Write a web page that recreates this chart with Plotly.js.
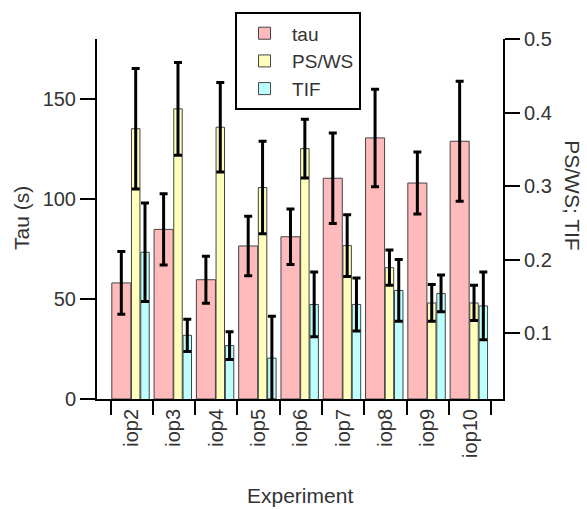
<!DOCTYPE html>
<html>
<head>
<meta charset="utf-8">
<script src="https://cdn.plot.ly/plotly-3.0.1.min.js"></script>
<style>html,body{margin:0;padding:0;background:#fff;}#chart{width:587px;height:509px;}</style>
</head>
<body>
<div id="chart"></div>
<script>
const categories = ['iop2','iop3','iop4','iop5','iop6','iop7','iop8','iop9','iop10'];
const tau      = [58.1, 84.9, 59.7, 76.6, 81.2, 110.5, 130.7, 108.1, 129.0];
const tauErr   = [15.7, 17.8, 11.8, 14.9, 13.9, 22.6, 24.4, 15.5, 30.0];
const psws     = [0.378, 0.405, 0.380, 0.298, 0.351, 0.219, 0.189, 0.141, 0.141];
const pswsErr  = [0.082, 0.063, 0.061, 0.063, 0.040, 0.042, 0.024, 0.025, 0.024];
const tif      = [0.210, 0.097, 0.083, 0.066, 0.139, 0.139, 0.158, 0.154, 0.137];
const tifErr   = [0.067, 0.022, 0.019, 0.057, 0.044, 0.036, 0.042, 0.025, 0.046];
const leftTicks  = [0, 50, 100, 150];
const rightTicks = [0.1, 0.2, 0.3, 0.4, 0.5];

const FONT = 'Liberation Sans, Arial, sans-serif';
const TXT = '#333';
const outline = {color: '#444', width: 1};
const err = (arr) => ({type: 'data', array: arr, visible: true, color: '#000', thickness: 3, width: 4});

const traces = [
  {type: 'bar', name: 'tau', x: categories, y: tau, yaxis: 'y',
   offset: -0.47, width: 0.45,
   marker: {color: '#FFBBBB', line: outline}, error_y: err(tauErr)},
  {type: 'bar', name: 'PS/WS', x: categories, y: psws, yaxis: 'y2',
   offset: -0.005, width: 0.2,
   marker: {color: '#FFFFBB', line: outline}, error_y: err(pswsErr)},
  {type: 'bar', name: 'TIF', x: categories, y: tif, yaxis: 'y2',
   offset: 0.215, width: 0.2,
   marker: {color: '#BBFFFF', line: outline}, error_y: err(tifErr)}
];

const layout = {
  width: 587, height: 509,
  margin: {l: 97, r: 84, t: 35, b: 110},
  paper_bgcolor: '#fff', plot_bgcolor: '#fff',
  font: {family: FONT, size: 20, color: TXT},
  barmode: 'overlay',
  showlegend: true,
  legend: {x: 0.34, y: 1.074, xanchor: 'left', yanchor: 'top',
           bgcolor: '#fff', bordercolor: '#000', borderwidth: 2,
           itemwidth: 45,
           font: {family: FONT, size: 19, color: TXT}, traceorder: 'normal'},
  xaxis: {type: 'category', range: [-0.82, 8.78], tickson: 'boundaries',
          ticks: 'outside', ticklen: 14, tickwidth: 2, tickcolor: '#000',
          showline: true, linecolor: '#000', linewidth: 2,
          tickangle: -90, showgrid: false, zeroline: false,
          tickfont: {family: FONT, size: 20, color: TXT}},
  yaxis: {range: [0, 180.2], tickvals: leftTicks, ticks: 'outside', ticklen: 15,
          tickwidth: 2, tickcolor: '#000', showline: true, linecolor: '#000', linewidth: 2,
          showgrid: false, zeroline: false,
          tickfont: {family: FONT, size: 20, color: TXT}},
  yaxis2: {overlaying: 'y', side: 'right', range: [0.0104, 0.5], tickvals: rightTicks,
           ticks: 'outside', ticklen: 15, tickwidth: 2, tickcolor: '#000',
           showline: true, linecolor: '#000', linewidth: 2,
           showgrid: false, zeroline: false,
           tickfont: {family: FONT, size: 20, color: TXT}},
  annotations: [
    {text: 'Experiment', xref: 'paper', yref: 'paper', x: 0.5, y: -0.269,
     xanchor: 'center', yanchor: 'middle', showarrow: false,
     font: {family: FONT, size: 21, color: TXT}},
    {text: 'Tau (s)', xref: 'paper', yref: 'paper', x: -0.1847, y: 0.503,
     xanchor: 'center', yanchor: 'middle', textangle: -90, showarrow: false,
     font: {family: FONT, size: 21, color: TXT}},
    {text: 'PS/WS; TIF', xref: 'paper', yref: 'paper', x: 1.1724, y: 0.566,
     xanchor: 'center', yanchor: 'middle', textangle: 90, showarrow: false,
     font: {family: FONT, size: 21, color: TXT}}
  ]
};

Plotly.newPlot('chart', traces, layout, {displayModeBar: false, staticPlot: true});
</script>
</body>
</html>
